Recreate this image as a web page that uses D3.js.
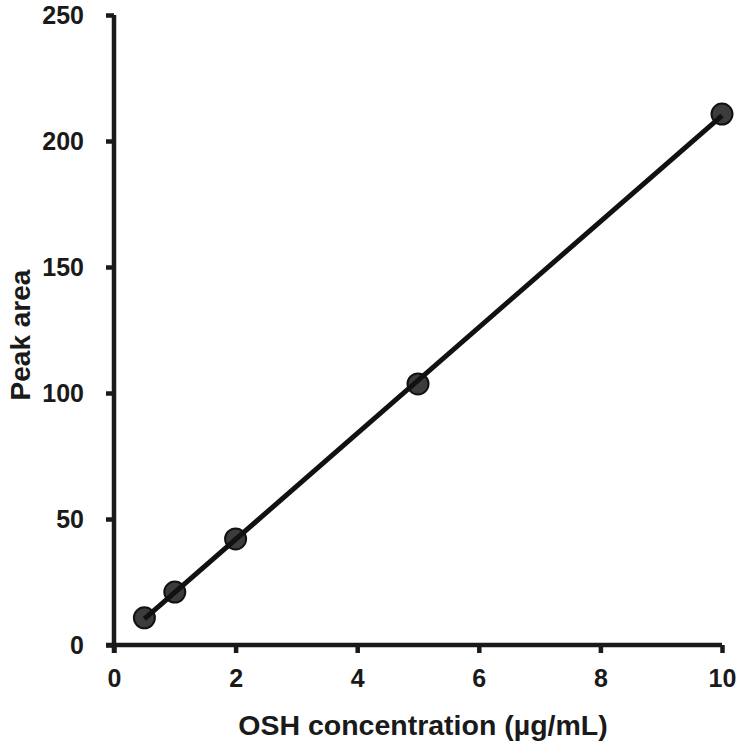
<!DOCTYPE html>
<html><head><meta charset="utf-8">
<script src="https://cdn.jsdelivr.net/npm/d3@7"></script>
<style>body{margin:0;background:#fff}svg{display:block}text{font-family:"Liberation Sans",Arial,sans-serif;font-weight:bold;fill:#1a1a1a}</style>
</head><body><svg id="c" width="738" height="747"></svg>
<script>
const concentrations = [0.5, 1, 2, 5, 10];
const peakAreas = [10.8, 21.0, 42.1, 103.6, 210.7];
const xTicks = [0, 2, 4, 6, 8, 10];
const yTicks = [0, 50, 100, 150, 200, 250];
const xLabel = "OSH concentration (µg/mL)";
const yLabel = "Peak area";

const W = 738, H = 747;
const m = {left: 114, top: 15, right: 16, bottom: 102};
const svg = d3.select("#c");
const x = d3.scaleLinear().domain([0, 10]).range([m.left, W - m.right]);
const y = d3.scaleLinear().domain([0, 250]).range([H - m.bottom, m.top]);

// linear regression fit
const n = concentrations.length;
const mx = d3.mean(concentrations), my = d3.mean(peakAreas);
let sxy = 0, sxx = 0;
for (let i = 0; i < n; i++) { sxy += (concentrations[i]-mx)*(peakAreas[i]-my); sxx += (concentrations[i]-mx)**2; }
const slope = sxy / sxx, icpt = my - slope * mx;

const xAxis = svg.append("g").attr("transform", `translate(0,${y(0)})`)
  .call(d3.axisBottom(x).tickValues(xTicks).tickFormat(d3.format("d")).tickSize(8).tickPadding(16));
const yAxis = svg.append("g").attr("transform", `translate(${x(0)},0)`)
  .call(d3.axisLeft(y).tickValues(yTicks).tickFormat(d3.format("d")).tickSize(8).tickPadding(22));
[xAxis, yAxis].forEach(g => {
  g.select(".domain").attr("stroke", "#1a1a1a").attr("stroke-width", 4.5);
  g.selectAll(".tick line").attr("stroke", "#1a1a1a").attr("stroke-width", 4.5);
  g.selectAll(".tick text").style("font-size", "25px").style("font-family", '"Liberation Sans",Arial,sans-serif').style("font-weight", "bold").attr("fill", "#1a1a1a");
});
// extend domain to meet ticks outward
xAxis.select(".domain").attr("d", `M${x(0)-8},0H${x(10)}`);
yAxis.select(".domain").attr("d", `M0,${y(0)+8}V${y(250)}`);

svg.selectAll("circle.pt").data(concentrations).join("circle").attr("class", "pt")
  .attr("cx", d => x(d)).attr("cy", (d, i) => y(peakAreas[i])).attr("r", 10.5)
  .attr("fill", "#3c3c3c").attr("stroke", "#111").attr("stroke-width", 2);

const x0 = d3.min(concentrations), x1 = d3.max(concentrations);
svg.append("line").attr("x1", x(x0)).attr("y1", y(slope*x0+icpt)).attr("x2", x(x1)).attr("y2", y(slope*x1+icpt))
  .attr("stroke", "#111").attr("stroke-width", 5);

svg.append("text").attr("x", 423).attr("y", 735).attr("text-anchor", "middle")
  .style("font-size", "28.5px").text(xLabel);
svg.append("text").attr("transform", `translate(30,335) rotate(-90)`).attr("text-anchor", "middle")
  .style("font-size", "28px").text(yLabel);
</script></body></html>
